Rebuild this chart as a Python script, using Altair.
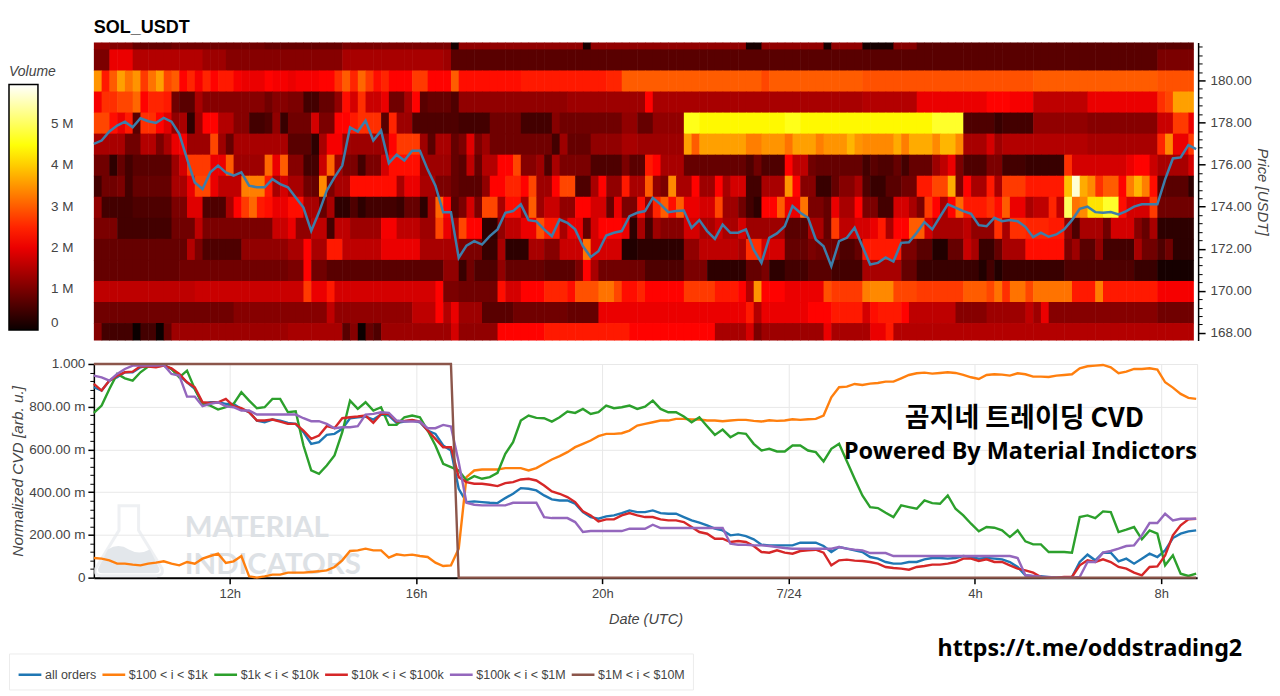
import altair as alt
import pandas as pd

# ---------- heat map volumes (units of 100k), one list per price band, top band first
R14 = [12]*2+[11]*3+[8]*5+[9]*12+[8]*10+[10]*14+[1] + [12]*16+[1]+[12]*20+[1]*2+[12]*8+[1]+[12]*4 + [1]*4+[11]*3+[7]*36
R13 = [10]*2+[20]*3+[15]*9+[13]*3+[11]*15+[14]*13+[13]+[7] + [7]*52 + [7]*38+[10]*5
R12 = [35,24,30,36,32,35,27,32,36,28,30,22,25,21,25,22,24,24,21,20,20,20,22,21,21,20,21,21,21,22,22,26,30,25,31,27,23,25,22,22,22,27,27,22,22,22,30] + [23]*8+[24]*11+[25]*2+[30]*18+[28]+[30]*12 + [29]*22+[30]*16+[29]*5
R11 = [21,26,26,28,28,31,22,25,25,24,9,7,7,14]+[11]*8+[9,11,11,10,10,5,5,8,8,12,23,18,26,17,17,20,9,9,14,22,7,8,8,8,6] + [12]*14+[13]*10+[22]+[14]*27 + [15]*7+[20]*9+[22]*3+[21]*3+[16]*7+[20]*9+[26,28,36,36,36]
R10 = [28,28,23,20,24,7,26,26,22,19,12,14,3,13,22,22,15,15,11,11,5,5,6,12,4,9,9,9,18,10,10,22,22,24,26,26,26,7,25,13,13,6,6,6,6,6,6] + [5]*4+[9]*4+[5]*4+[11]+[9]*8+[12,12,8,8]+[12]*4+[46,46]+[44]*11+[46,46]+[44]*8 + [44]*9+[47]*4+[6]*3+[6,4]+[5]*4+[12]*7+[11]*9+[17,17,27,27,20]
R9 = [14]*4+[9,9,15,15,10,14,20,21,13,13,13,28,13,8]+[14]*7+[7,7,7,3,14,21,21]+[13]*6+[22,27,27,27,13,7,14,14,8] + [10,19,10,13]+[9]*8+[5,13,8,8,8]+[12]*4+[14,14]+[13]*6+[36,30]+[36]*6+[33,33,35,35,35,32,36,36,36,33,35,35,35,38,35] + [34]*4+[37,33,37,37,37,34,38,38,34,14,14,14,18,13]+[15]*11+[14]*9+[25,34,20,20,27]
R8 = [9,9,3,8,5,7,7,7,7,7,13,18,27,27,27,20,20,30,13,13,13,13,31,20,30,11,11,5,5,17,31,13,10,10,5,10,10,18,23,23,23,23,13,13,13,13,8] + [7,16,8,15,15,22,22,28,11,11,13,6,14,10,10,10,10,6,6,6,6,10,7,7,24,22,14,14,14]+[8]*8+[6,9,6,6,6,22,16,16,9]+[8]*6 + [5,7,6,6,8,5,8,8,8,13,16,20,10,6,6,6,10,10,5,5,5,4,4,4,4,4,26]+[18]*7+[20,22,22,17,14,14,14,14,18]
R7 = [5,9,9,10,5,8,8,8,8,8,14,14,20,28,28,20,16,16,16,33,33,33,24,14,18,14,14,9,8,34,10,14,14]+[23]*6+[14,20,20,14,14,10,10,8] + [7,7,7,12,22,22,25,25,22,28,13,13,22,28,28,6,6,14,22,12,12,24,14,14,30,12,10,34,14,14,22,13,13,22,14,18,18,5,5,14,14,14,35,22,11,11,4,4,8,11,11,14] + [6,4,4,7,7,9,9,24,24,28,28,37,10,22,14,14,24,14,27,27,27,24,24,24,24,24,39,57,37,34,26,30,30,22,33,38,33,23,7,7,7,7,3]
R6 = [12,5,5,5,5,6,6,6,6,6,10,10,19,19,6,6,6,14,22,27,31,24,23,20,20,23,23,14,14,8,14,3,3,6,3,5,5,5,5,4,8,8,3,13,31,22,7] + [10,18,10,28,28,14,23,23,14,30,13,17,17,12,12,22,22,18,18,8,20,10,10,23,12,25,30,23,30,20,20,18,18,28,13,13,9,5,3,22,22,30,20,20,32,10,10,8,20,14,14,22] + [10,10,5,5,18,18,14,10,27,22,14,22,31,24,24,24,26,23,30,20,20,14,16,16,25,16,50,32,34,42,42,47,47,23,18,18,18,27,9,9,9,9,9]
R5 = [10]*3+[5]*7+[9]*3+[16]+[10]*9+[17,17,20,12,12,16,16,5,16,16,13,13,13,13,21,21,16,16,16,13,13,28,20,14] + [28,22,22,3,3,12,16,16,20,20,29,24,24,14,20,20,8,18,22,22,22,20,3,14,5,13,11,11,11,18,18,14,14,17,14,14,18,13,13,13,13,13,7,7,7,14,14,8,27,16,16,18] + [18,20,24,14,22,22,30,30,18,14,14,14,14,16,12,12,12,26,14,26,26,25,25,25,24,24,12,6,14,14,14,9,18,18,18,11,8,14,3,3,3,3,3]
R4 = [8]*12+[15,10]+[6]*5+[12]*6+[14,14,22,14,14,24,24]+[16]*5+[20]*5+[14]*5 + [10,10,10,4,4,14,3,3,3,14,14,11,11,17,17,17,32,18,18,18,18,2,2]+[3]*6+[12,12]+[16]*5+[14,26,26,18,18,18,8,8,8,10,9,9,9,6,6,8] + [24]*5+[10,10,7,7,2,2,8,8,17,14,4,4,8,14,14,14]+[23]*5+[10,13,7,7,12,5,5,5,5,14,9,9,6,9,3,3,3]
R3 = [8]*11+[9]*14+[10,10,22,9,9]+[7]*15+[12,12] + [4,9,6,6,6,12]+[8]*5+[7]*4+[10,22,14]+[9]*6+[6]*5+[10]*3+[3]*5+[8,8,10,3,3,5,5,5,7,7,7,5,5,5,5] + [14]*5+[8,8]+[4]*8+[2,5,2]+[4]*8+[6]*9+[4]*3+[1]*5
R2 = [16]*13+[17]*14+[27,20,20,24]+[18]*13+[22,10,10] + [9]*5+[23,18,18,22,22,22,25,25,25,23,29,29,29,32,32,28,23,23,25]+[22]*5+[27]*4+[24]*3+[22,15,35,22,22,22]+[20]*5+[29,27,27,27,27] + [33,34,34,34,28,28,28]+[27]*6+[30]*3+[28,32,26,32,32,28]+[32]*5+[24]*3+[33]+[24]*7+[21]*5
R1 = [9]*18+[11]*12+[16]+[12]*10+[16]*3+[22,15,20] + [13]*3+[7]*4+[9]*7+[8]*4+[20]*19+[24,15]+[20]*6+[22]*3+[24]*4 + [18,23,24,24,24,22]+[16]*6+[11]*4+[13]*5+[16,13,20]+[11]*14+[9]*5
R0 = [11,5,5,5,5,0,5,5,0,8]+[13]*15+[14]*7+[7,11,0,8,6]+[13]*9+[18] + [12]*5+[22]*6+[24]*11+[22]*11+[14]*4+[18,10]+[13]*8+[20]+[14]*4 + [14,20,20,24]+[15]*39
heat_rows = [R14,R13,R12,R11,R10,R9,R8,R7,R6,R5,R4,R3,R2,R1,R0]
band_edges = [181.8,181.44,180.44,179.44,178.44,177.44,176.44,175.44,174.44,173.44,172.44,171.44,170.44,169.44,168.44,167.64]

# ---------- price, one value per 10 minutes
price = [176.98,177.14,177.57,177.85,178.04,177.77,178.2,178.06,177.98,178.22,178.04,177.46,176.27,175.15,174.84,175.63,175.95,175.63,175.47,175.63,175.0,174.92,174.92,175.31,175.07,174.92,174.44,173.96,172.85,173.73,174.76,175.39,175.95,177.77,177.57,178.09,177.14,177.61,176.07,176.47,176.19,176.66,176.66,175.76,175.0,173.73,173.73,
171.57,172.15,172.36,172.2,172.6,172.92,173.71,173.79,174.11,173.36,173.3,172.92,172.6,173.39,173.23,172.92,172.12,171.61,171.88,172.63,172.76,172.84,173.55,173.71,173.79,174.42,174.11,173.74,173.79,173.82,172.99,173.36,172.84,172.47,173.15,172.76,172.76,172.92,171.96,171.33,172.52,172.73,173.07,174.03,173.71,173.47,172.44,172.12,171.17,172.36,172.52,173.0,
172.12,171.25,171.33,171.59,171.39,172.28,172.31,172.76,173.27,172.92,173.52,174.11,173.95,173.79,173.66,173.12,173.07,173.47,173.31,173.36,173.31,173.04,172.55,172.76,172.57,172.68,172.92,173.36,173.9,174.0,173.74,173.71,173.74,173.63,173.79,174.0,174.11,174.11,174.11,175.3,176.29,176.34,176.92,176.73]

# ---------- normalized CVD, one value per 10 minutes, full scale = 642
all_orders = [572,562,592,602,617,617,632,637,637,640,627,607,587,567,522,527,527,522,522,507,497,472,467,475,472,465,462,437,402,407,429,432,447,479,482,484,475,490,487,465,469,472,467,442,432,397,382,
267,227,229,227,225,224,239,252,269,267,262,247,235,232,232,222,197,182,177,184,187,194,202,197,197,202,194,192,192,182,172,165,157,147,142,127,130,125,115,99,97,97,97,97,105,105,105,95,77,92,87,82,
77,62,57,47,42,42,47,47,55,59,59,57,59,65,62,57,59,57,55,47,32,7,4,4,1,0,0,2,47,69,52,75,75,49,57,42,57,72,62,82,119,132,139,142]
s_100_1k = [59,57,52,42,42,39,37,42,45,49,42,37,47,42,57,65,72,44,49,65,4,0,4,9,9,15,15,15,17,19,22,32,52,80,82,87,82,82,60,70,67,69,65,62,45,35,37,
87,302,322,325,325,325,329,329,329,322,329,342,355,365,377,392,402,412,425,432,432,434,442,457,462,467,472,472,477,477,475,475,472,472,470,472,474,474,471,469,473,471,472,476,474,476,477,487,542,572,574,582,
579,583,585,589,589,599,609,614,616,613,615,617,615,609,602,597,609,611,610,607,614,611,604,604,603,607,609,611,629,635,637,639,632,614,619,627,627,629,625,587,571,552,540,537]
s_1k_10k = [495,517,567,612,599,592,617,634,635,637,627,602,622,567,522,517,505,512,522,557,532,509,512,537,537,497,500,397,322,312,337,367,437,532,507,527,502,512,459,459,482,487,482,442,397,342,332,
322,292,305,297,302,315,372,407,472,487,480,479,469,482,499,495,507,492,497,517,509,512,517,507,514,532,507,497,497,484,467,482,455,429,445,422,435,432,402,382,387,379,379,397,397,382,377,349,387,402,350,297,
247,212,209,195,182,217,212,207,232,224,222,247,207,187,162,139,152,150,142,122,142,109,100,100,77,77,77,75,182,187,179,199,197,137,144,152,115,142,132,37,67,12,5,12]
s_10k_100k = [582,562,592,607,617,619,635,634,632,637,629,612,587,572,527,525,527,537,515,509,497,472,472,475,469,462,462,442,417,427,455,449,479,482,484,487,465,492,492,469,471,474,469,442,417,392,392,
302,287,282,282,279,275,284,287,295,297,292,277,259,252,242,227,199,187,169,175,175,187,194,187,182,182,175,172,172,167,152,137,132,117,117,107,110,107,95,77,75,82,75,72,80,82,84,75,37,52,54,51,
50,47,42,32,29,27,24,32,35,39,39,42,47,57,57,50,55,47,47,37,27,22,15,2,0,0,2,2,37,52,47,55,47,32,27,15,7,32,34,67,127,157,175,177]
s_100k_1m = [607,602,592,612,627,637,637,637,637,639,612,607,544,544,515,522,527,515,512,502,502,490,490,490,490,490,490,479,470,470,462,449,452,452,455,490,492,497,495,472,469,469,469,449,449,459,454,
347,225,219,217,217,217,217,225,225,225,225,182,179,179,179,167,137,140,140,140,140,140,147,147,147,159,149,149,149,149,149,149,149,149,149,102,99,99,97,97,95,92,89,87,87,87,87,87,87,92,87,84,
82,74,74,74,65,65,65,65,65,65,65,65,65,65,65,65,65,65,65,65,59,7,5,3,2,0,0,0,2,47,47,75,80,87,95,97,127,164,164,192,172,177,177,177]
s_1m_10m = [642]*47 + [0]*96

series_names = ["all orders","$100 < i < $1k","$1k < i < $10k","$10k < i < $100k","$100k < i < $1M","$1M < i < $10M"]
series_vals = [all_orders,s_100_1k,s_1k_10k,s_10k_100k,s_100k_1m,s_1m_10m]
series_cols = ["#1f77b4","#ff7f0e","#2ca02c","#d62728","#9467bd","#8c564b"]
tick_hours = [12,16,20,24,28,32]
tick_names = ["12h","16h","20h","7/24","4h","8h"]
price_minor = [x/10 for x in range(1680,1820,4) if x % 20]
cvd_minor = [x/100 for x in range(0,104,4) if x % 20]
vol_ticks = [0,1e6,2e6,3e6,4e6,5e6]

T0 = 9.083
XDOM = [T0, 32.77]
FONT = "Liberation Sans"
GREY = "#444444"
PW = 1105

# ---------- tables
rows = []
for r, row in enumerate(heat_rows):
    for c, v in enumerate(row[:142]):
        rows.append({"t0":T0+c/6,"t1":min(T0+(c+1)/6+0.012,32.70),"p1":min(band_edges[r]+0.03,181.8),"p0":band_edges[r+1],"vol":v*1e5})
heat_df = pd.DataFrame(rows)
price_df = pd.DataFrame({"t":[T0+i/6 for i in range(len(price))],"price":price})
cvd_rows = []
for name, vals in zip(series_names, series_vals):
    for i, v in enumerate(vals):
        cvd_rows.append({"t":T0+i/6,"series":name,"cvd":v/642})
cvd_df = pd.DataFrame(cvd_rows)

xlab = "{" + ",".join(f"{h}:'{n}'" for h,n in zip(tick_hours,tick_names)) + "}[datum.value]"

hot = alt.Scale(domain=[0,2.18e6,4.45e6,5.97e6],range=["#0b0000","#ff0000","#ffff00","#ffffff"],clamp=True,interpolate="rgb")
x_none = alt.X("t0:Q",scale=alt.Scale(domain=XDOM,nice=False,zero=False),axis=None)
py = alt.Scale(domain=[band_edges[-1],band_edges[0]],nice=False,zero=False)

heat = alt.Chart(heat_df).mark_rect(strokeWidth=0).encode(
    x=x_none, x2="t1:Q",
    y=alt.Y("p0:Q",scale=py,axis=alt.Axis(orient="right",values=[168,170,172,174,176,178,180],format=".2f",
        title="Price [USDT]",titleFontStyle="italic",titleFontWeight="normal",titleFontSize=15,titleColor=GREY,titlePadding=3,
        labelFont=FONT,labelFontSize=13.5,labelColor=GREY,tickColor="black",tickSize=7,domainColor="black",domainWidth=1.5,tickWidth=1.5,
        grid=False,offset=1,titleFont=FONT,labelPadding=5)),
    y2="p1:Q",
    color=alt.Color("vol:Q",scale=hot,legend=alt.Legend(type="gradient",orient="none",legendX=-85,legendY=23,title="Volume",titleFontStyle="italic",
        titleFontWeight="normal",titleFontSize=14,titleColor=GREY,titleFont=FONT,gradientLength=246,gradientThickness=29,
        gradientStrokeColor="black",gradientStrokeWidth=1.5,values=vol_ticks,labelFont=FONT,labelFontSize=13.5,labelColor=GREY,
        labelExpr="datum.value==0?'0':(datum.value/1000000)+' M'",labelOffset=13,titlePadding=5)),
)
price_line = alt.Chart(price_df).mark_line(color="#3d7eaa",strokeWidth=2.5).encode(
    x=alt.X("t:Q",scale=alt.Scale(domain=XDOM,nice=False,zero=False),axis=None),
    y=alt.Y("price:Q",scale=py,axis=alt.Axis(orient="right",values=price_minor,labels=False,title=None,tickColor="black",tickSize=4,
        domain=False,grid=False,offset=1)),
)
bar_ticks = alt.Chart(pd.DataFrame({"v":vol_ticks})).mark_rule(color="black",strokeWidth=1).encode(
    y=alt.Y("v:Q",scale=alt.Scale(domain=[0,5.97e6],range=[287,41]),axis=None),
    x=alt.value(-63),x2=alt.value(-56),
)
top = alt.layer(heat,price_line,bar_ticks).resolve_scale(y="independent").resolve_axis(y="independent").properties(
    width=PW,height=298.5,
    title=alt.TitleParams("SOL_USDT",anchor="start",frame="group",fontSize=18,fontWeight="bold",font=FONT,color="black",offset=6),
    view=alt.ViewConfig(stroke=None))

# ---------- lower panel
xs = alt.Scale(domain=XDOM,nice=False,zero=False)
ys = alt.Scale(domain=[0,1],nice=False)
cs = alt.Scale(domain=series_names,range=series_cols)
ylab = "datum.value==0?'0':datum.value==1?'1.000':format(datum.value*1000,'.2f')+' m'"
leg = alt.Legend(orient="none",legendX=-85,legendY=290,direction="horizontal",columns=6,title=None,symbolType="stroke",symbolSize=520,
    symbolStrokeWidth=2.5,labelFont=FONT,labelFontSize=12.5,labelColor=GREY,strokeColor="#ececec",fillColor="white",padding=8,
    columnPadding=0,labelOffset=2,symbolOffset=0)
x_axis = alt.Axis(values=tick_hours,labelExpr=xlab,title="Date (UTC)",titleFontStyle="italic",titleFontWeight="normal",
        titleFontSize=14.5,titleColor=GREY,titleFont=FONT,labelFont=FONT,labelFontSize=13,labelColor=GREY,tickColor="black",tickSize=6,tickWidth=1.5,
        domainColor="black",domainWidth=2,gridColor="#e8e8e8",titlePadding=12,labelPadding=4)
lines_main = alt.Chart(cvd_df[cvd_df.series!=series_names[5]]).mark_line(strokeWidth=2.4).encode(
    x=alt.X("t:Q",scale=xs,axis=x_axis),
    y=alt.Y("cvd:Q",scale=ys,axis=alt.Axis(values=[0,.2,.4,.6,.8,1],labelExpr=ylab,title="Normalized CVD [arb. u.]",titleFontStyle="italic",
        titleFontWeight="normal",titleFontSize=15.4,titleColor=GREY,titleFont=FONT,labelFont=FONT,labelFontSize=13.5,labelColor=GREY,tickColor="black",
        tickSize=6,tickWidth=1.5,domainColor="black",domainWidth=1.5,gridColor="#e8e8e8",titlePadding=3,labelPadding=3)),
    color=alt.Color("series:N",scale=cs,legend=leg,sort=series_names),
)
lines_brown = alt.Chart(cvd_df[cvd_df.series==series_names[5]]).mark_line(strokeWidth=2.4).encode(
    x=alt.X("t:Q",scale=xs,axis=x_axis),
    y=alt.Y("cvd:Q",scale=ys,axis=alt.Axis(orient="left",values=cvd_minor,labels=False,title=None,grid=False,domain=False,tickColor="black",tickSize=4)),
    color=alt.Color("series:N",scale=cs,legend=leg,sort=series_names),
)
def label(text,x,y,size,font,color="black",weight="bold",align="left"):
    return alt.Chart(pd.DataFrame({"s":[text]})).mark_text(font=font,fontSize=size,fontWeight=weight,color=color,align=align,baseline="alphabetic").encode(
        text="s:N",x=alt.value(x),y=alt.value(y))
FLASK = "M-0.28 -1 L0.28 -1 L0.28 -0.3 L0.95 0.8 Q1 1 0.8 1 L-0.8 1 Q-1 1 -0.95 0.8 L-0.28 -0.3 Z"
LIQUID = "M-0.6 0.25 Q-0.3 0.05 0 0.25 Q0.3 0.42 0.6 0.25 L0.88 0.8 Q0.9 0.93 0.75 0.93 L-0.75 0.93 Q-0.9 0.93 -0.88 0.8 Z"
flask = alt.Chart(pd.DataFrame({"a":[1]})).mark_point(shape=FLASK,size=4900,filled=False,stroke="#e8ebee",strokeWidth=3).encode(x=alt.value(35),y=alt.value(177))
liquid = alt.Chart(pd.DataFrame({"a":[1]})).mark_point(shape=LIQUID,size=4900,filled=True,fill="#e3e7eb",opacity=1,strokeWidth=0).encode(x=alt.value(35),y=alt.value(177))
wm1 = label("MATERIAL",91,173,29.5,"Lato","#dde1e5")
wm2 = label("INDICATORS",91,210,29.5,"Lato","#dde1e5")
t1 = label("곰지네 트레이딩 CVD",932,63,27,"Noto Sans CJK KR",align="center")
t2 = label("Powered By Material Indictors",1105,95,23.5,"Noto Sans",align="right")
t3 = label("https://t.me/oddstrading2",845,292,23.3,"Noto Sans")
bottom = alt.layer(flask,liquid,wm1,wm2,lines_main,lines_brown,t1,t2,t3).resolve_axis(y="independent").properties(
    width=PW,height=214,view=alt.ViewConfig(stroke="#e8e8e8"))

chart = alt.vconcat(top,bottom,spacing=15).properties(padding={"left":0,"top":10,"right":2,"bottom":0},background="white")
chart = chart.resolve_scale(color="independent")
chart.save("out.html",embed_options={"renderer":"svg","actions":False})
